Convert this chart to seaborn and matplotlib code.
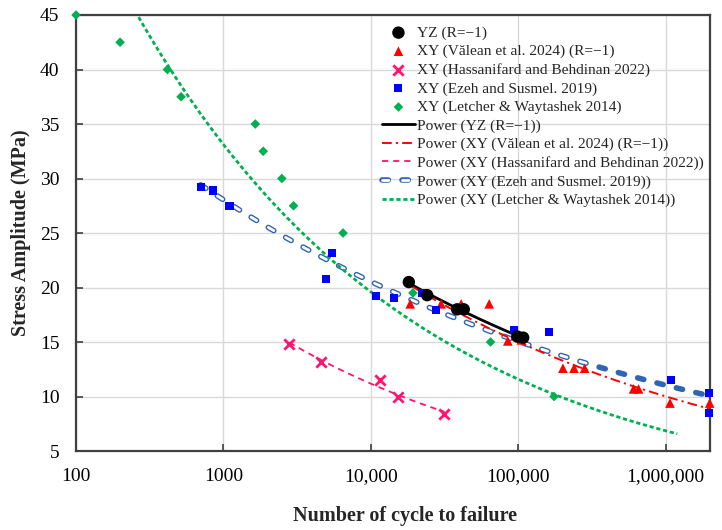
import numpy as np
import pandas as pd
import seaborn as sns
import matplotlib.pyplot as plt
from matplotlib.ticker import NullLocator
from matplotlib.legend_handler import HandlerTuple

# Data
yz_n = [18100, 24100, 38500, 42700, 98600, 108000]
yz_s = [20.5, 19.3, 18.0, 18.0, 15.5, 15.4]

valean_n = [18500, 30000, 41000, 63500, 85000, 105000, 201000, 239000, 282000,
            606000, 655000, 1070000, 1990000]
valean_s = [18.5, 18.5, 18.5, 18.5, 15.1, 15.2, 12.6, 12.6, 12.6, 10.7, 10.7, 9.4, 9.4]

hassan_n = [2790, 4570, 11500, 15400, 31600]
hassan_s = [14.8, 13.2, 11.5, 10.0, 8.4]

ezeh_n = [700, 849, 1100, 4990, 5480, 10800, 14400, 22300, 27500, 93000, 162500,
          1080000, 1980000, 1980000]
ezeh_s = [29.2, 28.9, 27.5, 20.8, 23.2, 19.2, 19.0, 19.5, 17.9, 16.1, 15.9, 11.5, 10.3, 8.5]

letcher_n = [100, 199, 417, 516, 1645, 1862, 2490, 2990, 6480, 19300, 64900, 175000]
letcher_s = [45, 42.5, 40, 37.5, 35, 32.5, 30, 27.5, 25, 19.5, 15, 10]
# trendline as drawn in the reference (forecast forward)
letcher_a, letcher_b = 160.0, -0.228
letcher_span = (100, 1.2e6)

xticks = [100, 1000, 10000, 100000, 1000000]
xtick_labels = ['100', '1000', '10,000', '100,000', '1,000,000']
yticks = [5, 10, 15, 20, 25, 30, 35, 40, 45]

labels_pts = ['YZ (R=\u22121)',
              'XY (V\u0103lean et al. 2024) (R=\u22121)',
              'XY (Hassanifard and Behdinan 2022)',
              'XY (Ezeh and Susmel. 2019)',
              'XY (Letcher & Waytashek 2014)']


def power_fit(n, s):
    b, lna = np.polyfit(np.log(n), np.log(s), 1)
    return np.exp(lna), b


def trend_df(a, b, lo, hi):
    x = np.geomspace(lo, hi, 300)
    return pd.DataFrame({'n': x, 's': a * x ** b})


sns.set_style('whitegrid')
plt.rcParams['font.family'] = ['Liberation Serif', 'DejaVu Serif']
plt.rcParams['lines.scale_dashes'] = False

fig, ax = plt.subplots(figsize=(7.22, 5.30), dpi=100)
fig.subplots_adjust(left=0.1053, right=0.9834, bottom=0.149, top=0.9717)
ax.set_xscale('log')

# scatter points
pt_handles = []
sns.scatterplot(x=yz_n, y=yz_s, marker='o', s=80, color='black', edgecolor='none', zorder=5, ax=ax)
pt_handles.append(ax.collections[-1])
sns.scatterplot(x=valean_n, y=valean_s, marker='^', s=48, color='#FF0000', edgecolor='none', zorder=4, ax=ax)
pt_handles.append(ax.collections[-1])
sns.scatterplot(x=hassan_n, y=hassan_s, marker='x', s=55, color='#FF1470', linewidth=2, zorder=4, ax=ax)
pt_handles.append(ax.collections[-1])
sns.scatterplot(x=ezeh_n, y=ezeh_s, marker='s', s=34, color='#0000FF', edgecolor='none', zorder=4, ax=ax)
pt_handles.append(ax.collections[-1])
sns.scatterplot(x=letcher_n, y=letcher_s, marker='D', s=24, color='#00B050', edgecolor='none', zorder=6, ax=ax)
pt_handles.append(ax.collections[-1])
for coll in pt_handles:
    coll.set_clip_on(False)

# power trendlines
ln_handles = []
a, b = power_fit(yz_n, yz_s)
df = trend_df(a, b, min(yz_n), max(yz_n))
sns.lineplot(data=df, x='n', y='s', color='black', lw=2, sort=False, estimator=None, zorder=3, ax=ax)
ln_handles.append(ax.lines[-1])

a, b = power_fit(valean_n, valean_s)
df = trend_df(a, b, min(valean_n), max(valean_n))
sns.lineplot(data=df, x='n', y='s', color='#FF0000', lw=1.4, sort=False, estimator=None, zorder=3, ax=ax)
ax.lines[-1].set_dashes((7, 3, 1.5, 3))
ln_handles.append(ax.lines[-1])

a, b = power_fit(hassan_n, hassan_s)
df = trend_df(a, b, min(hassan_n), max(hassan_n))
sns.lineplot(data=df, x='n', y='s', color='#FF1470', lw=1.3, sort=False, estimator=None, zorder=3, ax=ax)
ax.lines[-1].set_dashes((4.5, 3.5))
ln_handles.append(ax.lines[-1])

a, b = power_fit(ezeh_n, ezeh_s)
df = trend_df(a, b, min(ezeh_n), max(ezeh_n))
sns.lineplot(data=df, x='n', y='s', color='#2F65B5', lw=4, sort=False, estimator=None, zorder=2, ax=ax)
outer = ax.lines[-1]
outer.set_dashes((4.6, 9.8))
outer.set_dash_capstyle('round')
df_in = df[df['n'] <= 3.5e5]
sns.lineplot(data=df_in, x='n', y='s', color='white', lw=2, sort=False, estimator=None, zorder=2.1, ax=ax)
inner = ax.lines[-1]
inner.set_dashes((4.6, 9.8))
inner.set_dash_capstyle('round')
ln_handles.append((outer, inner))

df = trend_df(letcher_a, letcher_b, *letcher_span)
sns.lineplot(data=df, x='n', y='s', color='#00B050', lw=2, sort=False, estimator=None, zorder=3, ax=ax)
ax.lines[-1].set_dashes((3, 2))
ln_handles.append(ax.lines[-1])

ax.set_xlim(100, 2e6)
ax.set_ylim(5, 45)
ax.set_xticks(xticks)
ax.set_xticklabels(xtick_labels)
ax.xaxis.set_minor_locator(NullLocator())
ax.set_yticks(yticks)

ax.grid(True, color='#D9D9D9', lw=1)
for sp in ax.spines.values():
    sp.set_color('#404040')
    sp.set_linewidth(1.6)
ax.tick_params(bottom=True, left=True, direction='in', length=5, width=1.2,
               color='#404040', labelsize=14, labelcolor='black')
ax.tick_params(axis='x', pad=12)
ax.tick_params(axis='y', pad=12)

ax.set_xlabel('Number of cycle to failure', fontsize=14.5, fontweight='bold')
ax.xaxis.set_label_coords(0.519, -0.125)
ax.set_ylabel('Stress Amplitude (MPa)', fontsize=14.5, fontweight='bold', labelpad=6)

labels_ln = ['Power (' + l + ')' for l in labels_pts]
leg = ax.legend(pt_handles + ln_handles, labels_pts + labels_ln,
                loc='upper left', bbox_to_anchor=(0.483, 0.975), frameon=False,
                fontsize=11.1, handlelength=2.1, handletextpad=0.15, labelspacing=0.3,
                borderpad=0, borderaxespad=0,
                handler_map={tuple: HandlerTuple(ndivide=1)})

fig.savefig('out.png', dpi=100)
